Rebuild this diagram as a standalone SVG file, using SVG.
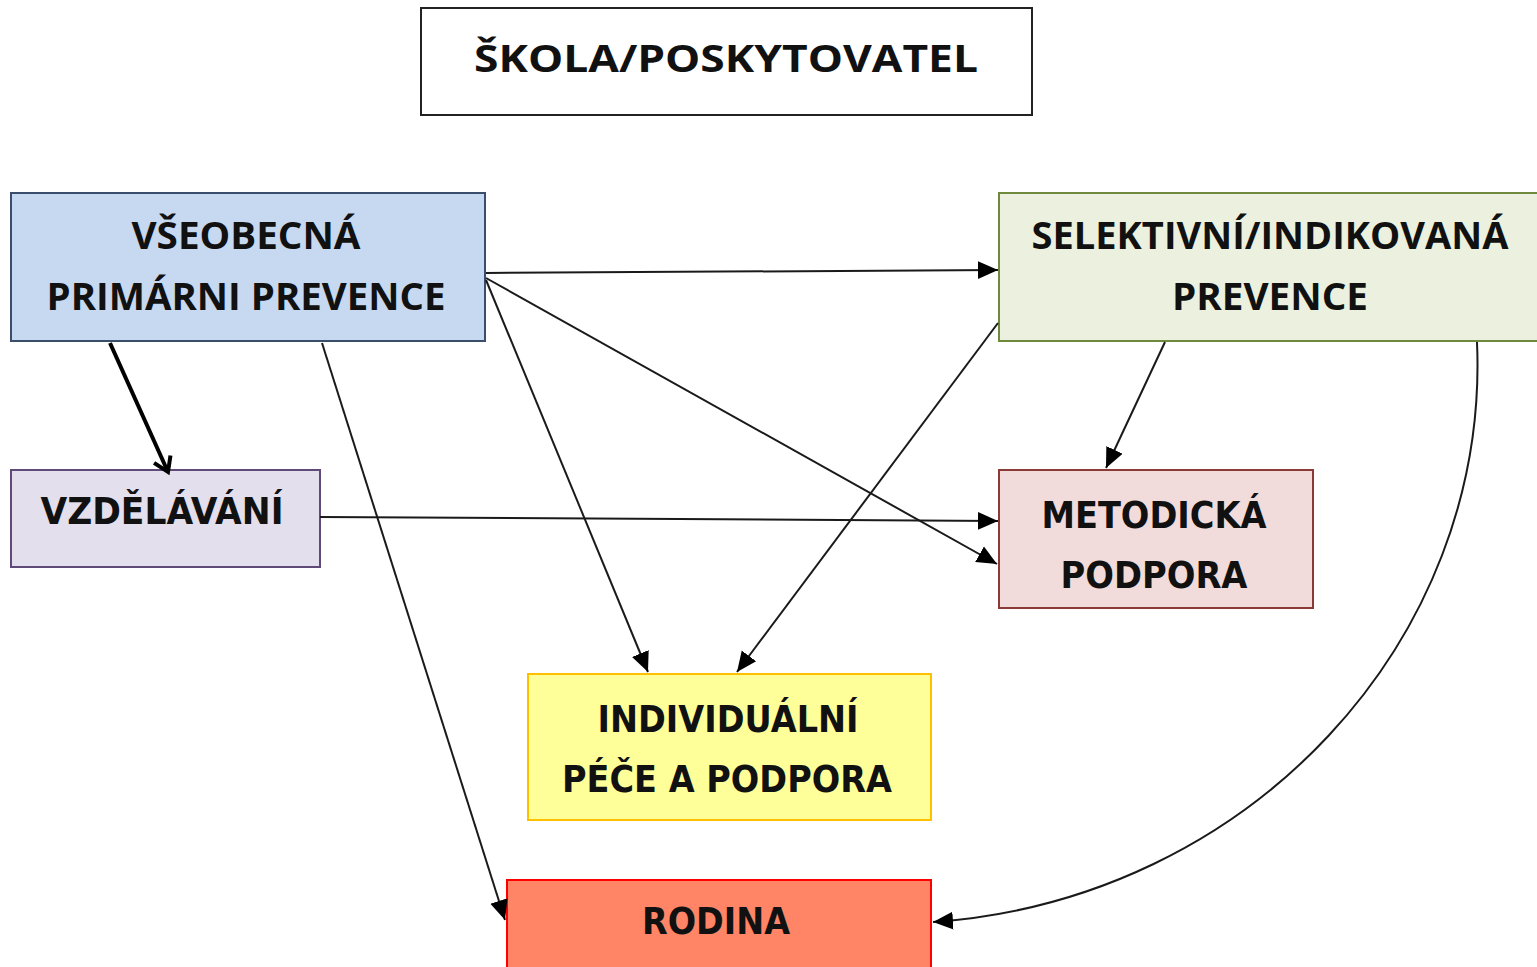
<svg xmlns="http://www.w3.org/2000/svg" width="1537" height="967" viewBox="0 0 1537 967">
<style>
.box{stroke-width:2}
.c{font-family:"Open Sans","Noto Sans","Liberation Sans",sans-serif;font-weight:bold;font-size:38px;fill:#111;text-anchor:middle}
.v{font-family:"DejaVu Sans","Liberation Sans",sans-serif;font-weight:bold;font-size:38px;fill:#111;text-anchor:middle}
.ln{stroke:#1a1a1a;stroke-width:2;fill:none;marker-end:url(#ah)}
</style>
<defs>
<marker id="ah" markerUnits="userSpaceOnUse" markerWidth="22" markerHeight="20" refX="20" refY="10" orient="auto">
<path d="M0,1 L20,10 L0,19 Z" fill="#000"/>
</marker>
<marker id="oa" markerUnits="userSpaceOnUse" markerWidth="24" markerHeight="24" refX="18" refY="12" orient="auto">
<path d="M4,3 L18,12 L4,21" fill="none" stroke="#000" stroke-width="4"/>
</marker>
</defs>
<rect width="1537" height="967" fill="#fff"/>

<g id="skola">
<rect x="421" y="8" width="611" height="107" fill="#fff" stroke="#222" class="box"/>
<text x="726" y="72" class="c" font-size="50" textLength="504" lengthAdjust="spacingAndGlyphs">ŠKOLA/POSKYTOVATEL</text>
</g>

<g id="vseobecna">
<rect x="11" y="193" width="474" height="148" fill="#c6d9f0" stroke="#3a4e6b" class="box"/>
<text x="246" y="249" class="c" textLength="229" lengthAdjust="spacingAndGlyphs">VŠEOBECNÁ</text>
<text x="246" y="310" class="c" textLength="399" lengthAdjust="spacingAndGlyphs">PRIMÁRNI PREVENCE</text>
</g>

<g id="selektivni">
<rect x="999" y="193" width="540" height="148" fill="#ebf1de" stroke="#6f8a3c" class="box"/>
<text x="1270" y="249" class="c" textLength="477" lengthAdjust="spacingAndGlyphs">SELEKTIVNÍ/INDIKOVANÁ</text>
<text x="1270" y="310" class="c" textLength="196" lengthAdjust="spacingAndGlyphs">PREVENCE</text>
</g>

<g id="vzdelavani">
<rect x="11" y="470" width="309" height="97" fill="#e4dfec" stroke="#5f4a78" class="box"/>
<text x="162" y="524" class="v" textLength="243" lengthAdjust="spacingAndGlyphs">VZDĚLÁVÁNÍ</text>
</g>

<g id="metodicka">
<rect x="999" y="470" width="314" height="138" fill="#f2dcdb" stroke="#8c3a38" class="box"/>
<text x="1154" y="528" class="v" textLength="225" lengthAdjust="spacingAndGlyphs">METODICKÁ</text>
<text x="1154" y="588" class="v" textLength="187" lengthAdjust="spacingAndGlyphs">PODPORA</text>
</g>

<g id="individualni">
<rect x="528" y="674" width="403" height="146" fill="#ffff99" stroke="#ffc000" class="box"/>
<text x="728" y="732" class="v" textLength="261" lengthAdjust="spacingAndGlyphs">INDIVIDUÁLNÍ</text>
<text x="727" y="792" class="v" textLength="330" lengthAdjust="spacingAndGlyphs">PÉČE A PODPORA</text>
</g>

<g id="rodina">
<rect x="507" y="880" width="424" height="100" fill="#ff8566" stroke="#ff0000" class="box"/>
<text x="716" y="934" class="v" textLength="148" lengthAdjust="spacingAndGlyphs">RODINA</text>
</g>

<g id="connectors">
<line x1="486" y1="273" x2="998" y2="270" class="ln"/>
<line x1="486" y1="278" x2="997" y2="564" class="ln"/>
<line x1="486" y1="280" x2="648" y2="672" class="ln"/>
<line x1="322" y1="343" x2="505" y2="920" class="ln"/>
<line x1="998" y1="323" x2="737" y2="672" class="ln"/>
<line x1="320" y1="517" x2="998" y2="521" class="ln"/>
<line x1="1165" y1="342" x2="1106" y2="468" class="ln"/>
<path d="M1477,342 C1490,640 1250,900 933,922" class="ln"/>
<line x1="110" y1="343" x2="168" y2="472" stroke="#000" stroke-width="4" marker-end="url(#oa)"/>
</g>
</svg>
